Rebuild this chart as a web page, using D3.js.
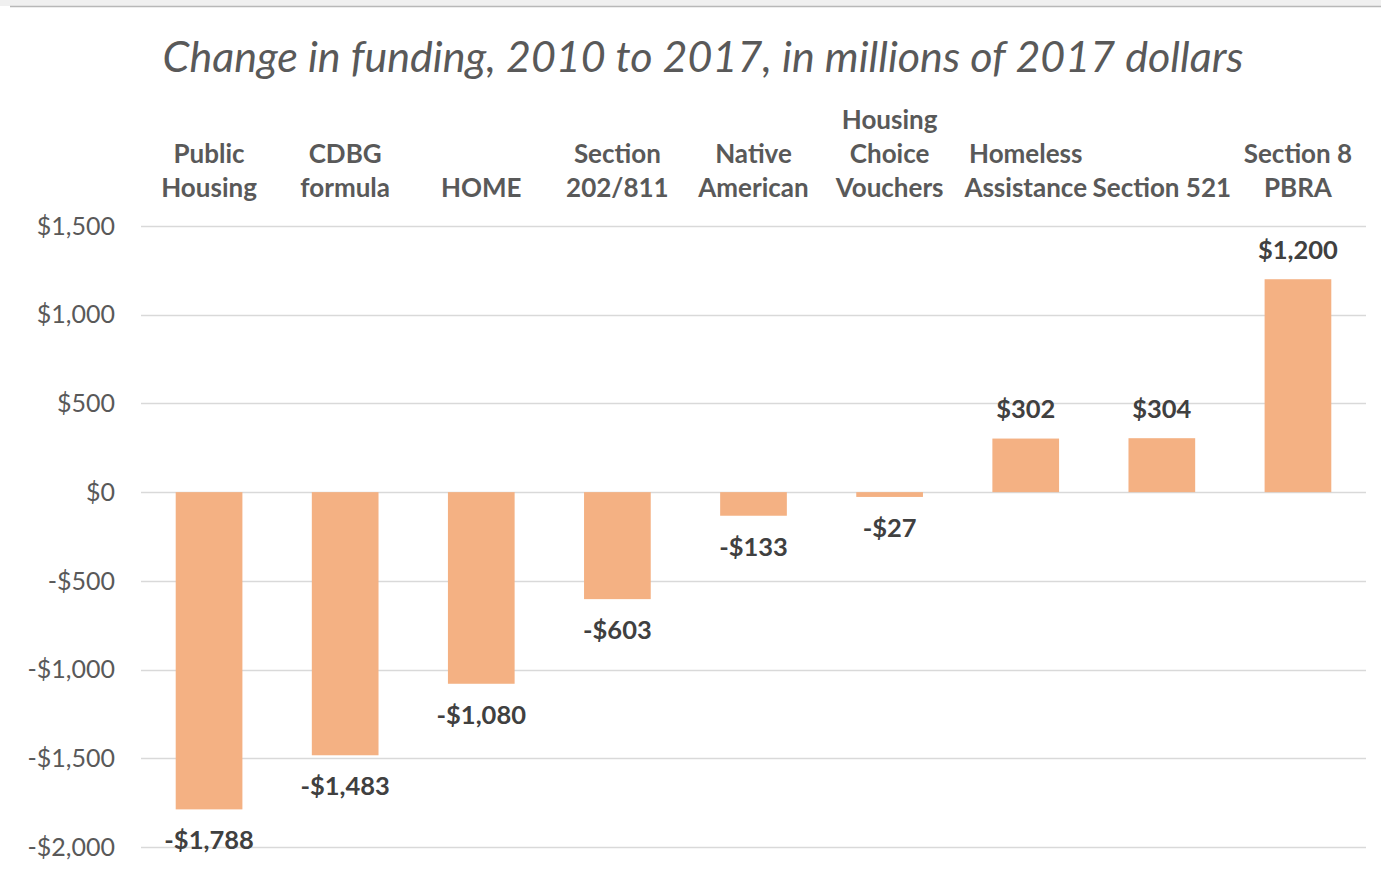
<!DOCTYPE html>
<html><head><meta charset="utf-8">
<script src="https://cdn.jsdelivr.net/npm/d3@7"></script>
<style>body{margin:0;background:#fff}svg{display:block}</style>
</head><body>
<svg id="chart" width="1381" height="872"></svg>
<script>
const categories = [["Public","Housing"],["CDBG","formula"],["HOME"],["Section","202/811"],["Native","American"],["Housing","Choice","Vouchers"],["Homeless","Assistance"],["Section 521"],["Section 8","PBRA"]];
const values = [-1788,-1483,-1080,-603,-133,-27,302,304,1200];
const valueLabels = ["-$1,788","-$1,483","-$1,080","-$603","-$133","-$27","$302","$304","$1,200"];
const yTicks = [1500,1000,500,0,-500,-1000,-1500,-2000];
const yTickLabels = ["$1,500","$1,000","$500","$0","-$500","-$1,000","-$1,500","-$2,000"];
const title = "Change in funding, 2010 to 2017, in millions of 2017 dollars";

const svg = d3.select("#chart");
const font = "Lato, 'Open Sans', sans-serif";
// top frame strip
svg.append("rect").attr("x",0).attr("y",0).attr("width",1381).attr("height",6).attr("fill","#f0f0f0");
svg.append("line").attr("x1",10).attr("x2",1381).attr("y1",6.5).attr("y2",6.5).attr("stroke","#b8b8b8").attr("stroke-width",1.5);

const x = d3.scaleBand().domain(d3.range(categories.length)).range([141,1366]).paddingInner(0.51).paddingOuter(0.255);
const y = d3.scaleLinear().domain([-2000,1500]).range([847,226]);

// gridlines
svg.append("g").selectAll("line").data(yTicks).join("line")
  .attr("x1",141).attr("x2",1366).attr("y1",d=>Math.round(y(d))+0.5).attr("y2",d=>Math.round(y(d))+0.5)
  .attr("stroke","#d9d9d9").attr("stroke-width",1.3);

// y labels
svg.append("g").selectAll("text").data(yTicks).join("text")
  .attr("x",115).attr("y",d=>y(d)).attr("dy","0.35em").attr("text-anchor","end")
  .attr("font-family",font).attr("font-size",25).attr("fill","#595959")
  .text((d,i)=>yTickLabels[i]);

// bars
svg.append("g").selectAll("rect").data(values).join("rect")
  .attr("x",(d,i)=>x(i)).attr("width",x.bandwidth())
  .attr("y",d=>y(Math.max(0,d))).attr("height",d=>Math.abs(y(d)-y(0)))
  .attr("fill","#F4B183");

// value labels
svg.append("g").selectAll("text").data(values).join("text")
  .attr("x",(d,i)=>x(i)+x.bandwidth()/2)
  .attr("y",d=> d>=0 ? y(d)-29 : y(d)+31)
  .attr("dy","0.35em").attr("text-anchor","middle")
  .attr("font-family",font).attr("font-weight","bold").attr("font-size",25.5).attr("fill","#404040")
  .text((d,i)=>valueLabels[i]);

// category labels
const cg = svg.append("g").selectAll("text").data(categories).join("text")
  .attr("text-anchor","middle").attr("font-family",font).attr("font-weight","bold")
  .attr("font-size",26).attr("fill","#595959");
cg.each(function(lines,i){
  const t = d3.select(this);
  const cx = x(i)+x.bandwidth()/2;
  lines.forEach((l,j)=>{
    t.append("tspan").attr("x",cx).attr("y",188-34*(lines.length-1-j)).attr("dy","0.35em").text(l);
  });
});

// title
svg.append("text").attr("x",703).attr("y",57).attr("dy","0.35em").attr("text-anchor","middle")
  .attr("font-family",font).attr("font-style","italic").attr("font-size",43).attr("fill","#595959")
  .text(title);
</script>
</body></html>
